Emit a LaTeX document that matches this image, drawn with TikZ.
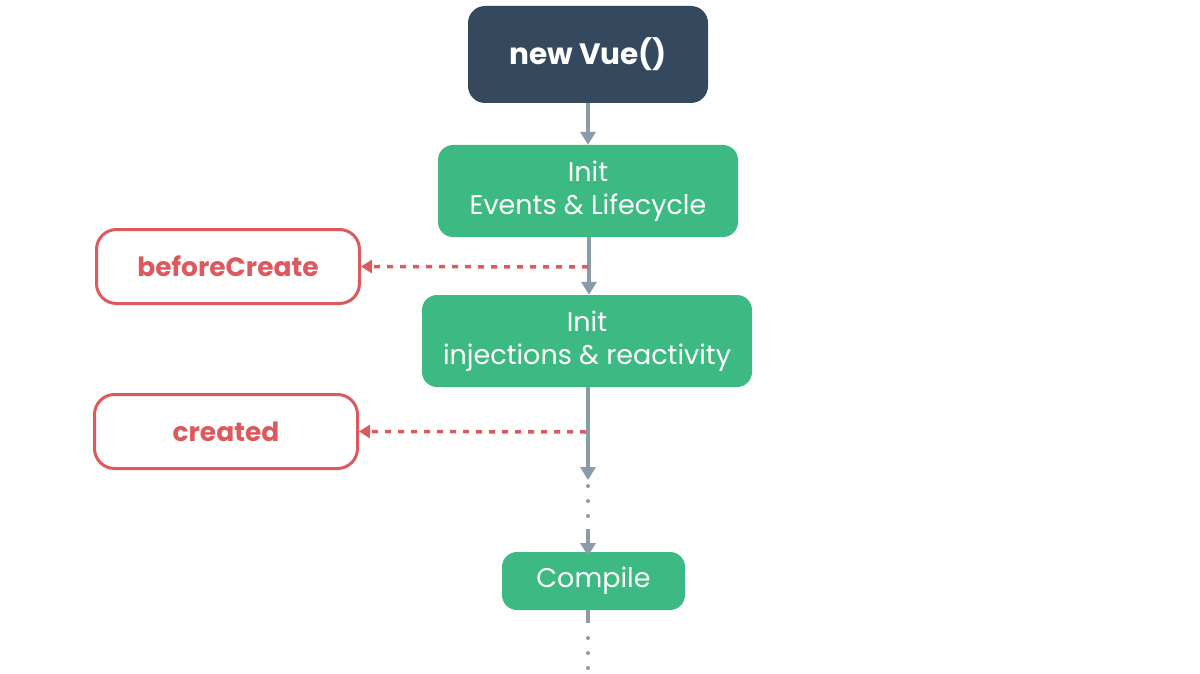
\documentclass[tikz,border=0pt]{standalone}
\usepackage{fontspec}
\setmainfont{Poppins}
\usetikzlibrary{arrows.meta}
\definecolor{vuedark}{HTML}{35495E}
\definecolor{vuegreen}{HTML}{3DB983}
\definecolor{hookred}{HTML}{DC5A5E}
\definecolor{flowgray}{HTML}{8A9BA8}
\tikzset{
  darkbox/.style={fill=vuedark, rounded corners=17pt, text=white, font=\fontsize{29.5}{32}\selectfont\bfseries, align=center, inner sep=0pt},
  greenbox/.style={fill=vuegreen, rounded corners=15pt, text=white, font=\fontsize{27}{33}\selectfont, align=center, inner sep=0pt},
  hookbox/.style={draw=hookred, line width=3pt, fill=white, rounded corners=20pt, text=hookred, font=\fontsize{26.5}{30}\selectfont\bfseries, inner sep=0pt},
  flow/.style={draw=flowgray, line width=4pt, -{Triangle[width=15pt,length=13pt]}},
  flowline/.style={draw=flowgray, line width=4pt},
  flowdots/.style={draw=flowgray, line width=4pt, line cap=round, dash pattern=on 0pt off 15pt},
  hook/.style={draw=hookred, line width=3.5pt, dash pattern=on 6pt off 7pt, -{Triangle[width=13pt,length=11pt]}}
}
\begin{document}
\begin{tikzpicture}[x=1pt,y=-1pt]
\useasboundingbox (0,0) rectangle (1200,674);
\node[darkbox, minimum width=240pt, minimum height=97pt] (vue) at (588,54.5) {new Vue()};
\node[greenbox, minimum width=300pt, minimum height=92pt] (init1) at (588,191) {Init\\Events \& Lifecycle};
\node[greenbox, minimum width=330pt, minimum height=92pt] (init2) at (587,341) {Init\\injections \& reactivity};
\node[greenbox, minimum width=183pt, minimum height=58pt] (compile) at (593.5,581) {Compile};
\node[hookbox, minimum width=263pt, minimum height=74pt] (before) at (228,266.5) {beforeCreate};
\node[hookbox, minimum width=263pt, minimum height=74pt] (created) at (226,431.5) {created};
\coordinate (h1) at (588,267);
\coordinate (h2) at (586,432);
\coordinate (t1) at (588,480);
\coordinate (d1s) at (588,486);
\coordinate (d1e) at (588,518);
\coordinate (a2s) at (588,529);
\coordinate (a2e) at (588,556);
\coordinate (l3s) at (588,610);
\coordinate (l3e) at (588,623);
\coordinate (d2s) at (588,638);
\coordinate (d2e) at (588,668);
\draw[flow] (vue.south -| 588,0) -- (init1.north -| 588,0);
\draw[flow] (init1.south -| 589,0) -- (init2.north -| 589,0);
\draw[hook] (h1) -- (before.east);
\draw[hook] (h2) -- (created.east);
\draw[flow] (init2.south -| 588,0) -- (t1);
\draw[flowdots] (d1s) -- (d1e);
\draw[flow] (a2s) -- (a2e);
\draw[flowline] (l3s) -- (l3e);
\draw[flowdots] (d2s) -- (d2e);
\end{tikzpicture}
\end{document}
